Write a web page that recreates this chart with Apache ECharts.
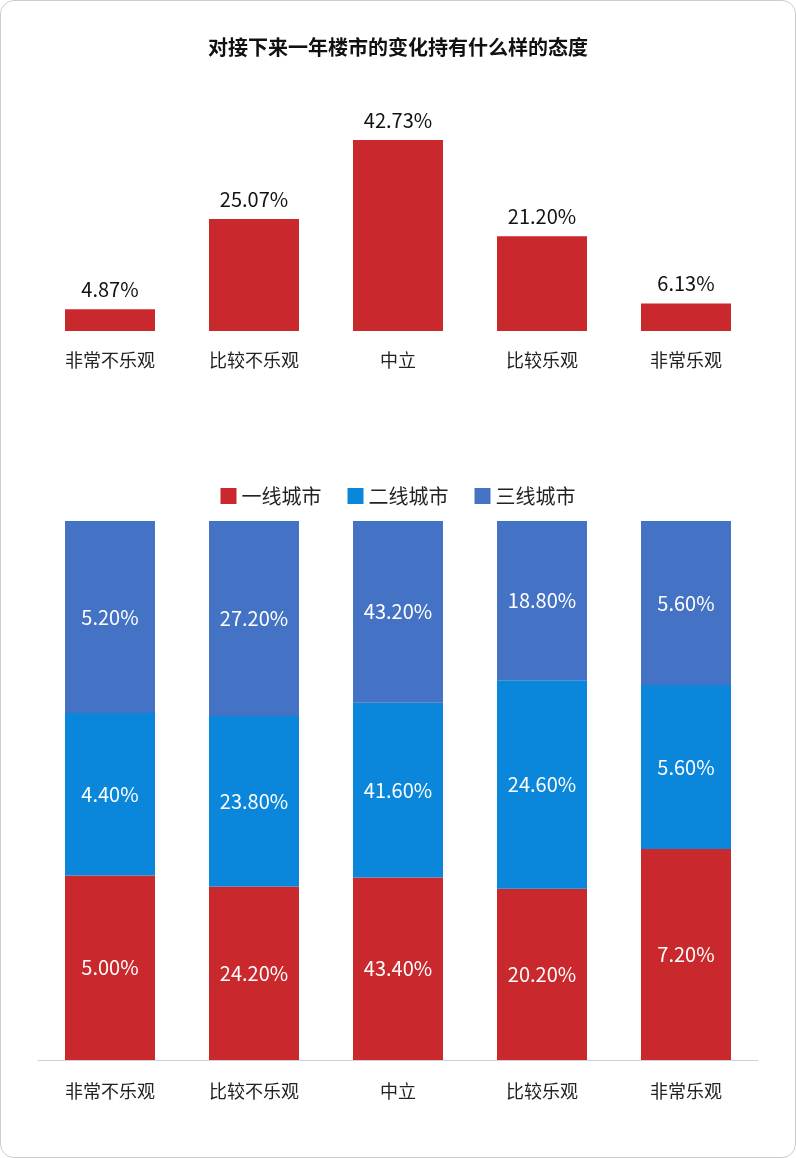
<!DOCTYPE html>
<html><head><meta charset="utf-8">
<script src="https://cdn.jsdelivr.net/npm/echarts@6/dist/echarts.min.js"></script>
<style>
html,body{margin:0;padding:0;background:#fff;}
#frame{position:absolute;left:0;top:0;width:794px;height:1156px;border:1px solid #ccc;border-radius:14px;}
#c{width:796px;height:1158px;}
</style></head><body>
<div id="frame"></div>
<div id="c"></div>
<script>
const categories = ['非常不乐观','比较不乐观','中立','比较乐观','非常乐观'];
const overall = [4.87, 25.07, 42.73, 21.20, 6.13];
const tier1 = [5.00, 24.20, 43.40, 20.20, 7.20];
const tier2 = [4.40, 23.80, 41.60, 24.60, 5.60];
const tier3 = [5.20, 27.20, 43.20, 18.80, 5.60];
const seriesNames = ['一线城市','二线城市','三线城市'];
const colors = ['#C9282D','#0A86DB','#4472C4'];
const raw = [tier1, tier2, tier3];
const totals = categories.map((_, i) => tier1[i] + tier2[i] + tier3[i]);
const font = '"Microsoft YaHei","Noto Sans CJK SC",sans-serif';
const chart = echarts.init(document.getElementById('c'));
chart.setOption({
  textStyle:{fontFamily:font},
  title:{text:'对接下来一年楼市的变化持有什么样的态度',left:'center',top:32,textStyle:{fontSize:20,fontWeight:'bold',color:'#111',fontFamily:font}},
  legend:{data:seriesNames,top:481,left:'center',itemWidth:16,itemHeight:16,icon:'rect',itemGap:26,textStyle:{fontSize:20,color:'#222',fontFamily:font}},
  grid:[
    {left:38,right:38,top:107.5,height:223.5},
    {left:38,right:38,top:521,height:539}
  ],
  xAxis:[
    {gridIndex:0,type:'category',data:categories,axisLine:{show:false},axisTick:{show:false},axisLabel:{fontSize:18,color:'#222',margin:20}},
    {gridIndex:1,type:'category',data:categories,axisLine:{show:true,lineStyle:{color:'#d0d0d0'}},axisTick:{show:false},axisLabel:{fontSize:18,color:'#222',margin:22}}
  ],
  yAxis:[
    {gridIndex:0,type:'value',min:0,max:50,show:false},
    {gridIndex:1,type:'value',min:0,max:1,show:false}
  ],
  series:[
    {type:'bar',xAxisIndex:0,yAxisIndex:0,data:overall,barWidth:90,itemStyle:{color:'#C9282D'},
     label:{show:true,position:'top',distance:10,fontSize:20,color:'#111',formatter:p=>p.value.toFixed(2)+'%'}},
    ...seriesNames.map((n,k)=>({
      name:n,type:'bar',xAxisIndex:1,yAxisIndex:1,stack:'s',barWidth:90,itemStyle:{color:colors[k]},
      data:raw[k].map((v,i)=>v/totals[i]),
      label:{show:true,position:'inside',fontSize:20,color:'#fff',formatter:p=>raw[k][p.dataIndex].toFixed(2)+'%'}
    }))
  ]
});
</script></body></html>
